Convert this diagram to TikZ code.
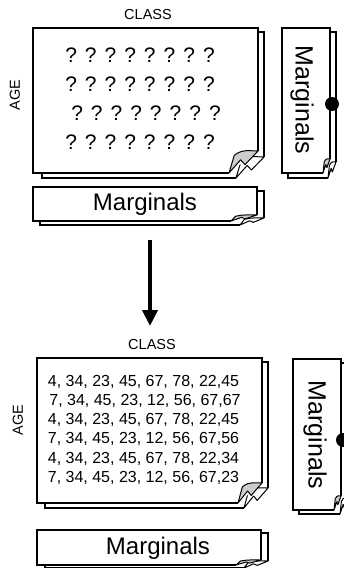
\documentclass[tikz,border=0pt]{standalone}
\usepackage{fontspec}
\setmainfont{Liberation Sans}
\usetikzlibrary{arrows.meta}
\definecolor{flapgrey}{gray}{0.8}

\tikzset{
  sheetfill/.style={fill=white},
  edge/.style={draw=black, line width=1.3pt, line join=miter},
  flap/.style={draw=black, fill=flapgrey, line width=1pt, line join=round},
  backflap/.style={draw=black, fill=white, line width=1pt, line join=round},
  axislabel/.style={font=\fontsize{14.5}{16}\selectfont, inner sep=0pt},
  margtext/.style={font=\fontsize{24}{26}\selectfont, inner sep=0pt},
  sidetext/.style={font=\fontsize{25}{28}\selectfont, inner sep=0pt, rotate=-90},
  qrow/.style={font=\fontsize{21}{22}\selectfont, inner sep=0pt},
  numrow/.style={font=\fontsize{16}{18}\selectfont, inner sep=0pt},
  joint/.style={circle, fill=black, inner sep=0pt, minimum size=14pt},
  flow/.style={line width=4pt, -{Triangle[length=16pt,width=15pt]}},
}

% A sheet of paper with a curled lower right corner:
% #1,#2 top left; #3,#4 bottom right; #5,#6 size of the curl; #7 flap style
\newcommand\curlsheet[7]{%
  \fill[sheetfill] (#1,#2) -- (#3,#2) -- (#3,#4-#6) -- (#3-#5,#4) -- (#1,#4) -- cycle;
  \draw[edge] (#3,#4-#6) -- (#3,#2) -- (#1,#2) -- (#1,#4) -- (#3-#5,#4);
  \draw[#7] (#3-#5,#4) -- (#3-0.82*#5,#4-0.8*#6)
     .. controls (#3-0.55*#5,#4-1.1*#6) and (#3-0.25*#5,#4-1.0*#6) .. (#3,#4-#6)
     -- (#3-0.45*#5,#4-0.38*#6) -- (#3-0.6*#5,#4-0.6*#6) -- cycle;
}
\newcommand\qgap{\hspace{8pt}}
\newcommand\qline{?\qgap?\qgap?\qgap?\qgap?\qgap?\qgap?\qgap?}

\begin{document}
\begin{tikzpicture}[x=1pt, y=-1pt]
  \useasboundingbox (0,0) rectangle (344,568);
  \clip (0,0) rectangle (344,568);

  % ---------- unknown table ----------
  \node[axislabel] (classA) at (148,15) {CLASS};
  \node[axislabel, rotate=90] (ageA) at (15,95) {AGE};
  \curlsheet{42}{32}{264}{178}{28}{21}{backflap}
  \curlsheet{33}{28}{258}{173}{29}{22}{flap}
  \node[qrow] (qA1) at (140,55)  {\qline};
  \node[qrow] (qA2) at (140,84)  {\qline};
  \node[qrow] (qA3) at (146,113) {\qline};
  \node[qrow] (qA4) at (140,142) {\qline};

  % column marginals
  \curlsheet{40}{191}{264}{225}{24}{7}{backflap}
  \curlsheet{33}{187}{257}{221}{26}{6}{flap}
  \node[margtext] (margColA) at (145,204) {Marginals};

  % row marginals
  \curlsheet{288}{32}{336}{178}{8}{16}{backflap}
  \curlsheet{282}{28}{330}{173}{7}{14}{flap}
  \node[sidetext] (margRowA) at (302,100) {Marginals};
  \node[joint] (jointA) at (332,104) {};

  % ---------- step ----------
  \coordinate (flowStart) at (150,240);
  \coordinate (flowEnd) at (150,326);
  \draw[flow] (flowStart) -- (flowEnd);

  % ---------- filled table ----------
  \node[axislabel] (classB) at (152,345) {CLASS};
  \node[axislabel, rotate=90] (ageB) at (18,420) {AGE};
  \curlsheet{45}{362}{268}{508}{24}{20}{backflap}
  \curlsheet{37}{358}{262}{503}{24}{20}{flap}
  \node[numrow] (nB1) at (143.5,381.5) {4, 34, 23, 45, 67, 78, 22,45};
  \node[numrow] (nB2) at (145,401)     {7, 34, 45, 23, 12, 56, 67,67};
  \node[numrow] (nB3) at (143.5,420)   {4, 34, 23, 45, 67, 78, 22,45};
  \node[numrow] (nB4) at (143.5,439)   {7, 34, 45, 23, 12, 56, 67,56};
  \node[numrow] (nB5) at (143.5,458.5) {4, 34, 23, 45, 67, 78, 22,34};
  \node[numrow] (nB6) at (143.5,478)   {7, 34, 45, 23, 12, 56, 67,23};

  % row marginals
  \curlsheet{299}{363}{348}{514}{8}{16}{backflap}
  \curlsheet{293}{359}{341}{510}{7}{14}{flap}
  \node[sidetext] (margRowB) at (315,435) {Marginals};
  \node[joint] (jointB) at (343,440) {};

  % column marginals
  \curlsheet{45}{533}{268}{568}{24}{7}{backflap}
  \curlsheet{37}{530}{261}{565}{25}{5}{flap}
  \node[margtext] (margColB) at (158,548) {Marginals};
\end{tikzpicture}
\end{document}
